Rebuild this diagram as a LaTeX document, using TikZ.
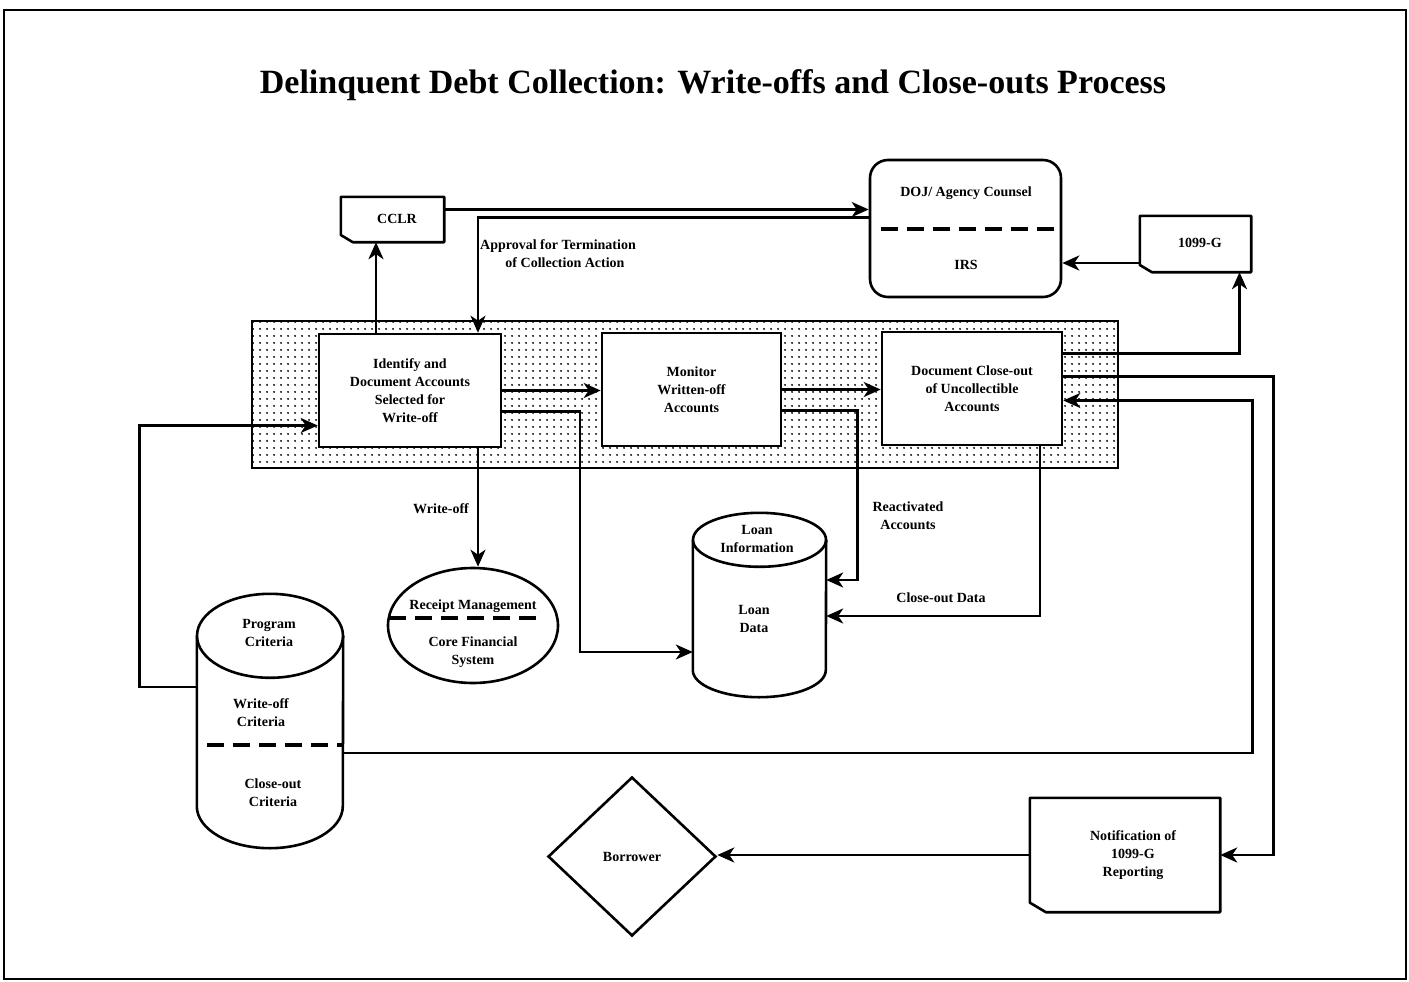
\documentclass[tikz,border=0pt]{standalone}
\usepackage{fontspec}
\setmainfont{Liberation Serif}
\usetikzlibrary{shapes.geometric,arrows.meta,patterns.meta,positioning}

\newcommand{\boxfont}{\fontsize{14}{18}\selectfont\bfseries}

% document box with a folded lower left corner
\newcommand{\docshape}[2]{%
  \draw[line width=2.6pt,line join=round] (#1.north west) -- (#1.north east) -- (#1.south east)
    -- ([xshift=#2]#1.south west) -- ([yshift=#2*0.6]#1.south west) -- cycle;
  \fill ([xshift=#2]#1.south west) -- ([yshift=#2*0.6]#1.south west)
    -- ([xshift=#2*0.45,yshift=#2*0.4]#1.south west) -- cycle;}

% data store drawn round a node
\newcommand{\drum}[3]{%
  \draw[line width=2.6pt] (#1.north west) -- (#1.south west)
    arc[start angle=180,end angle=360,x radius=#2,y radius=#3] -- (#1.north east);
  \draw[line width=2.6pt] (#1.north) ellipse[x radius=#2,y radius=#3];}

\begin{document}
\begin{tikzpicture}[x=1pt,y=-1pt,
	>={Stealth[length=17pt,width=15pt,inset=5pt]},
	flow/.style={->,line width=2.6pt},
	process node/.style={rectangle,draw,line width=2.6pt,fill=white,align=center,font=\boxfont,inner sep=0pt},
	doc node/.style={rectangle,fill=white,inner sep=0pt},
	text node/.style={align=center,font=\boxfont,inner sep=1pt},
	drum node/.style={rectangle,inner sep=0pt},
	divider/.style={line width=4pt,dash pattern=on 17pt off 9pt}
	]
	
	\useasboundingbox (0,0) rectangle (1409,982);
	\draw[line width=1.2pt] (4,10) rectangle (1406,979);
	
	\node[font=\fontsize{34}{40}\selectfont\bfseries] (title) at (713,85)
		{Delinquent Debt Collection: Write-offs and Close-outs Process};
	
	% shaded band behind the three steps
	\node[draw,line width=2.6pt,pattern={Dots[radius=1.1pt,distance=6.5pt]},
		minimum width=866pt,minimum height=147pt,inner sep=0pt] (band) at (685,394.5) {};
	
	\node[process node,minimum width=182pt,minimum height=113pt] (ident) at (410,390.5)
		{Identify and\\Document Accounts\\Selected for\\Write-off};
	\node[process node,minimum width=179pt,minimum height=113pt] (monitor) at (691.5,389.5)
		{Monitor\\Written-off\\Accounts};
	\node[process node,minimum width=180pt,minimum height=113pt] (close) at (972,388.5)
		{Document Close-out\\of Uncollectible\\Accounts};
	
	% documents
	\node[doc node,minimum width=103pt,minimum height=45pt] (cclr) at (392.5,219.5) {};
	\docshape{cclr}{12pt}
	\node[text node] (cclrtext) at (397,219) {CCLR};
	\node[doc node,minimum width=111pt,minimum height=56pt] (g1099) at (1195.5,244) {};
	\docshape{g1099}{12pt}
	\node[text node] (gtext) at (1200,243) {1099-G};
	\node[doc node,minimum width=190pt,minimum height=114pt] (notif) at (1125,855) {};
	\docshape{notif}{16pt}
	\node[text node] (notiftext) at (1133,855) {Notification of\\1099-G\\Reporting};
	
	% DOJ / IRS
	\node[draw,line width=2.6pt,rounded corners=18pt,minimum width=191pt,minimum height=137pt] (doj) at (965.5,228.5) {};
	\node[text node] (dojtext) at (966,193) {DOJ/ Agency Counsel};
	\node[text node] (irs) at (966,265) {IRS};
	\draw[divider] ([xshift=12pt]doj.west |- 0,229) -- ([xshift=-7pt]doj.east |- 0,229);
	
	% receipt management
	\node[ellipse,draw,line width=2.6pt,minimum width=170pt,minimum height=115pt,inner sep=0pt] (receipt) at (473,625.5) {};
	\node[text node] (rm) at (473,606) {Receipt Management};
	\node[text node] (cfs) at (473,652) {Core Financial\\System};
	\draw[divider] (389,618) -- (537,618);
	
	% loan information
	\node[drum node,minimum width=133pt,minimum height=130pt] (loan) at (759.5,605) {};
	\drum{loan}{66.5pt}{27pt}
	\node[text node] (loaninfo) at (757,539) {Loan\\Information};
	\node[text node] (loandata) at (754,619) {Loan\\Data};
	
	% program criteria
	\node[drum node,minimum width=146pt,minimum height=170pt] (prog) at (270,721) {};
	\drum{prog}{73pt}{42pt}
	\node[text node] (progcrit) at (269,633) {Program\\Criteria};
	\node[text node] (wocrit) at (261,713) {Write-off\\Criteria};
	\node[text node] (cocrit) at (273,793) {Close-out\\Criteria};
	\draw[divider] (207,745) -- (343,745);
	
	\node[diamond,draw,line width=2.6pt,minimum width=168pt,minimum height=159pt,inner sep=0pt,font=\boxfont] (borrower) at (632,856.5) {Borrower};
	
	% connectors
	\draw[flow] ([xshift=-34pt]ident.north) -- ([xshift=-34pt]ident.north |- cclr.south);
	\draw[flow] ([yshift=10pt]cclr.east) -- ([yshift=10pt]cclr.east -| doj.west);
	\draw[flow] ([yshift=11pt]doj.west) -| ([xshift=68pt]ident.north);
	\node[text node,anchor=north west] (approval) at (479,238) {Approval for Termination\\\hspace*{14pt}of Collection Action};
	\draw[flow] ([yshift=-19pt]g1099.west) -- ([yshift=-19pt]g1099.west -| doj.east);
	\draw[flow] ([yshift=35pt]close.east) -| ([xshift=44pt]g1099.south);
	
	\draw[flow] (ident.east) -- (ident.east -| monitor.west);
	\draw[flow] (monitor.east) -- (monitor.east -| close.west);
	
	\draw[flow] ([yshift=-21pt]ident.east) -| ([xshift=-113pt,yshift=-47pt]loan.west) -- ([yshift=-47pt]loan.west);
	\draw[flow] ([yshift=-21pt]monitor.east) -| ([xshift=31pt,yshift=25pt]loan.east) -- ([yshift=25pt]loan.east);
	\node[text node] (react) at (908,516) {Reactivated\\Accounts};
	\draw[flow] ([xshift=68pt]close.south) |- ([yshift=-11pt]loan.east);
	\node[text node] (codata) at (941,598) {Close-out Data};
	
	\draw[flow] ([xshift=68pt]ident.south) -- ([xshift=68pt]ident.south |- receipt.north);
	\node[text node] (wolabel) at (441,509) {Write-off};
	
	\draw[flow] ([yshift=34pt]prog.west) -| ([xshift=-178pt,yshift=-35pt]ident.west) -- ([yshift=-35pt]ident.west);
	\draw[flow] ([yshift=-32pt]prog.east) -| ([xshift=189pt,yshift=-12pt]close.east) -- ([yshift=-12pt]close.east);
	\draw[flow] ([yshift=12pt]close.east) -| ([xshift=53pt]notif.east) -- (notif.east);
	\draw[flow] (notif.west) -- (notif.west -| borrower.east);
	
\end{tikzpicture}
\end{document}
